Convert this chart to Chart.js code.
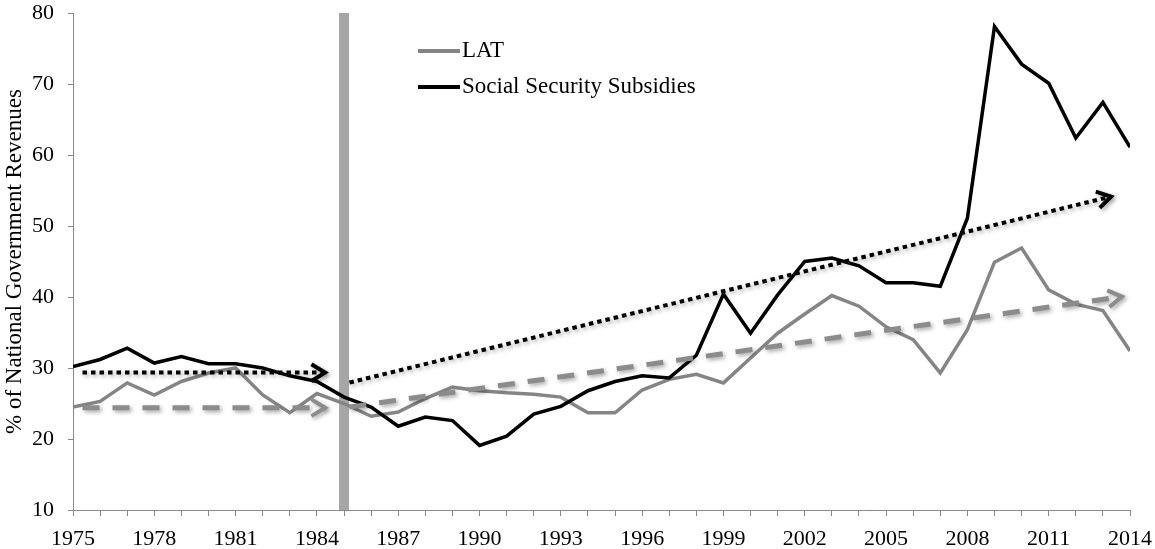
<!DOCTYPE html>
<html>
<head>
<meta charset="utf-8">
<script src="https://cdn.jsdelivr.net/npm/chart.js@4.4.1/dist/chart.umd.min.js"></script>
<style>
    body { margin: 0; background: #fff; }
    #wrap { width: 1155px; height: 549px; }
</style>
</head>
<body>
<div id="wrap"><canvas id="chart" width="1155" height="549"></canvas></div>
<script>
// dados
const years = [1975, 1976, 1977, 1978, 1979, 1980, 1981, 1982, 1983, 1984,
    1985, 1986, 1987, 1988, 1989, 1990, 1991, 1992, 1993, 1994,
    1995, 1996, 1997, 1998, 1999, 2000, 2001, 2002, 2003, 2004,
    2005, 2006, 2007, 2008, 2009, 2010, 2011, 2012, 2013, 2014];

const lat = [24.5, 25.3, 27.9, 26.2, 28.1, 29.3, 30.0, 26.2, 23.7, 26.4,
    25.0, 23.2, 23.8, 25.7, 27.3, 26.8, 26.5, 26.3, 25.9, 23.7,
    23.7, 26.9, 28.4, 29.1, 27.9, 31.4, 34.9, 37.6, 40.2, 38.7,
    35.8, 34.0, 29.3, 35.4, 44.9, 46.9, 41.0, 39.0, 38.1, 32.4];

const sss = [30.2, 31.2, 32.8, 30.7, 31.6, 30.6, 30.6, 30.0, 28.9, 28.1,
    25.9, 24.5, 21.8, 23.1, 22.6, 19.1, 20.4, 23.5, 24.6, 26.8,
    28.1, 28.9, 28.6, 31.8, 40.4, 34.9, 40.3, 45.0, 45.5, 44.4,
    42.0, 42.0, 41.5, 51.1, 78.1, 72.8, 70.1, 62.4, 67.4, 61.1];

// linhas de tendência (setas)
const trendBlack1X = [1975.35, 1984.3];
const trendBlack1Y = [29.35, 29.35];
const trendGray1X = [1975.35, 1984.3];
const trendGray1Y = [24.4, 24.4];
const trendBlack2X = [1985.2, 2013.3];
const trendBlack2Y = [27.95, 54.15];
const trendGray2X = [1985.2, 2013.7];
const trendGray2Y = [24.5, 40.05];

// barra vertical
const markerYear = 1985;
const markerRange = [10, 80];

const yTicks = { min: 10, max: 80, step: 10 };
const xTicks = { min: 1975, max: 2014, labelEvery: 3 };

const fonte = "'Liberation Serif', 'Times New Roman', serif";

function pts(xs, ys) {
    return xs.map((x, i) => ({ x: x, y: ys[i] }));
}

function trend(label, xs, ys, color, width, dash) {
    return {
        label: label,
        data: pts(xs, ys),
        borderColor: color,
        borderWidth: width,
        borderDash: dash,
        borderCapStyle: 'butt',
        pointRadius: 0,
        fill: false,
        tension: 0,
        order: 1,
        shadow: true,
        arrow: true
    };
}

// sombra + ponta da seta
const arrowPlugin = {
    id: 'arrows',
    beforeDatasetDraw(chart, args) {
        const ds = chart.data.datasets[args.index];
        if (!ds.shadow) return;
        const ctx = chart.ctx;
        ctx.save();
        ctx.shadowColor = 'rgba(0,0,0,0.35)';
        ctx.shadowBlur = 4;
        ctx.shadowOffsetX = 2;
        ctx.shadowOffsetY = 2;
    },
    afterDatasetDraw(chart, args) {
        const ds = chart.data.datasets[args.index];
        if (!ds.shadow) return;
        const ctx = chart.ctx;
        if (ds.arrow) {
            const p = args.meta.data;
            const a = p[p.length - 2], b = p[p.length - 1];
            const ang = Math.atan2(b.y - a.y, b.x - a.x);
            const len = 16;
            ctx.setLineDash([]);
            ctx.strokeStyle = ds.borderColor;
            ctx.lineWidth = 4;
            ctx.lineCap = 'butt';
            ctx.lineJoin = 'miter';
            ctx.beginPath();
            ctx.moveTo(b.x - len * Math.cos(ang - 0.55), b.y - len * Math.sin(ang - 0.55));
            ctx.lineTo(b.x, b.y);
            ctx.lineTo(b.x - len * Math.cos(ang + 0.55), b.y - len * Math.sin(ang + 0.55));
            ctx.stroke();
        }
        ctx.restore();
    }
};

// legenda dentro do gráfico
const legendPlugin = {
    id: 'legendaInterna',
    afterDraw(chart) {
        const ctx = chart.ctx;
        const area = chart.chartArea;
        const items = chart.data.datasets.filter(d => d.inLegend);
        ctx.save();
        items.forEach((d, i) => {
            const y = area.top + 38 + i * 36;
            const x0 = area.left + 345;
            ctx.strokeStyle = d.borderColor;
            ctx.lineWidth = 4;
            ctx.beginPath();
            ctx.moveTo(x0, y);
            ctx.lineTo(x0 + 42, y);
            ctx.stroke();
            ctx.fillStyle = '#000';
            ctx.font = '23px ' + fonte;
            ctx.textBaseline = 'middle';
            ctx.fillText(d.label, x0 + 44, y);
        });
        ctx.restore();
    }
};

const ctx = document.getElementById('chart').getContext('2d');
const grafico = new Chart(ctx, {
    type: 'line',
    data: {
        datasets: [
            {
                label: 'marker',
                data: pts([markerYear, markerYear], markerRange),
                borderColor: '#a6a6a6',
                borderWidth: 10,
                borderCapStyle: 'butt',
                pointRadius: 0,
                order: 5
            },
            {
                label: 'LAT',
                data: pts(years, lat),
                borderColor: '#858585',
                borderWidth: 3.5,
                pointRadius: 0,
                tension: 0,
                order: 4,
                inLegend: true
            },
            {
                label: 'Social Security Subsidies',
                data: pts(years, sss),
                borderColor: '#000000',
                borderWidth: 3.5,
                pointRadius: 0,
                tension: 0,
                order: 3,
                inLegend: true
            },
            trend('t1', trendBlack1X, trendBlack1Y, '#000000', 4, [4.5, 4]),
            trend('t2', trendGray1X, trendGray1Y, '#8c8c8c', 5, [17, 13]),
            trend('t3', trendBlack2X, trendBlack2Y, '#000000', 4, [4.5, 4]),
            trend('t4', trendGray2X, trendGray2Y, '#8c8c8c', 5, [17, 13])
        ]
    },
    options: {
        responsive: false,
        animation: false,
        layout: { padding: { top: 13, right: 25, left: 0, bottom: 0 } },
        plugins: {
            legend: { display: false },
            tooltip: { enabled: false }
        },
        scales: {
            x: {
                type: 'linear',
                min: xTicks.min,
                max: xTicks.max,
                afterFit: s => {
                    s.height = 39;
                    s.paddingLeft = 0;
                    s.paddingRight = 0;
                },
                grid: {
                    drawOnChartArea: false,
                    drawTicks: true,
                    tickLength: 6,
                    color: '#898989'
                },
                border: { color: '#898989', width: 1 },
                ticks: {
                    stepSize: 1,
                    autoSkip: false,
                    maxRotation: 0,
                    padding: 10,
                    color: '#000',
                    font: { family: fonte, size: 22 },
                    callback: v => ((v - xTicks.min) % xTicks.labelEvery === 0 ? String(v) : '')
                }
            },
            y: {
                min: yTicks.min,
                max: yTicks.max,
                afterFit: s => {
                    s.width = 73;
                    s.paddingTop = 0;
                    s.paddingBottom = 0;
                },
                grid: {
                    drawOnChartArea: false,
                    drawTicks: true,
                    tickLength: 5,
                    color: '#898989'
                },
                border: { color: '#898989', width: 1 },
                ticks: {
                    stepSize: yTicks.step,
                    padding: 14,
                    color: '#000',
                    font: { family: fonte, size: 22 }
                },
                title: {
                    display: true,
                    text: '% of National Government Revenues',
                    color: '#000',
                    font: { family: fonte, size: 23 },
                    padding: { top: 1, bottom: 0 }
                }
            }
        }
    },
    plugins: [arrowPlugin, legendPlugin]
});
</script>
</body>
</html>
